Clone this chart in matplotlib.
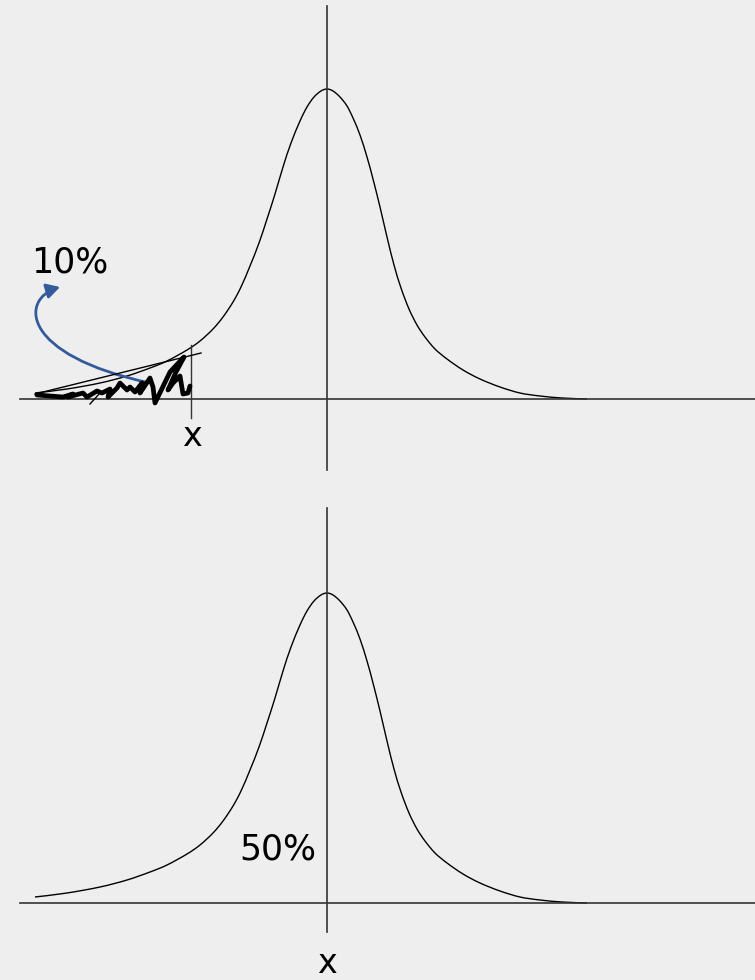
import numpy as np
import matplotlib
matplotlib.use("Agg")
import matplotlib.pyplot as plt
from matplotlib.path import Path
from matplotlib.patches import FancyArrowPatch, PathPatch

# bell curve profile: offset from centre (px) and height above baseline (px)
curve_dx = [-292, -260, -227, -200, -177, -160, -140, -127, -114, -104, -94, -86, -77, -68,
            -60, -52, -44, -36, -27, -20, -13, -6, 0,
            6, 13, 20, 26, 33, 40, 46, 53, 60, 67, 74, 82, 90, 98, 108, 120, 136, 153, 173,
            193, 213, 235, 260]
curve_h = [6, 10, 16, 23, 31, 38, 49, 58, 70, 82, 97, 112, 133, 156,
           180, 205, 232, 256, 278, 292, 302, 308, 310,
           308, 302, 293, 281, 264, 242, 220, 192, 162, 134, 111, 90, 74, 62, 50, 40, 29, 20, 12,
           6, 3, 1, 0]

# hand drawn shading under the left tail (image px)
scribble_x = [37, 50, 63, 73, 68, 83, 87, 97, 102, 110, 108, 117, 120, 127, 130, 135, 142,
              140, 150, 153, 155, 170, 184, 176, 168, 173, 180, 183, 188, 190]
scribble_y = [395, 396, 397, 394, 397, 393, 397, 391, 393, 389, 397, 388, 383, 390, 387, 392, 383,
              393, 378, 387, 403, 372, 357, 372, 390, 383, 376, 394, 393, 386]

labels_top = ["10%", "x"]
labels_bottom = ["50%", "x"]

bg = "#eeeeee"
axis_col = "#333333"
cx = 327


def smooth_path(xs, ys):
    # catmull-rom through the points, drawn as cubic bezier segments
    pts = np.column_stack([xs, ys]).astype(float)
    ext = np.vstack([pts[0], pts, pts[-1]])
    verts = [pts[0]]
    codes = [Path.MOVETO]
    for i in range(1, len(ext) - 2):
        p0, p1, p2, p3 = ext[i - 1], ext[i], ext[i + 1], ext[i + 2]
        verts += [p1 + (p2 - p0) / 6, p2 - (p3 - p1) / 6, p2]
        codes += [Path.CURVE4] * 3
    return Path(verts, codes)


fig = plt.figure(figsize=(7.55, 9.8), dpi=100, facecolor=bg)
ax = fig.add_axes([0, 0, 1, 1])
ax.set_facecolor(bg)
ax.set_xlim(0, 755)
ax.set_ylim(980, 0)
ax.axis("off")

dx = np.array(curve_dx)
h = np.array(curve_h)

# ---- top panel ----
base = 399
ax.plot([20, 755], [base, base], color=axis_col, lw=1.2)
ax.plot([cx, cx], [6, 470], color=axis_col, lw=1.2)
ax.add_patch(PathPatch(smooth_path(cx + dx, base - h), fill=False, edgecolor="black", lw=1.0))
ax.plot([191, 191], [345, 418], color=axis_col, lw=1.0)
ax.plot([35, 201], [394, 353], color="black", lw=1.0)
ax.plot([90, 100], [404, 393], color="black", lw=1.0)
ax.plot(scribble_x, scribble_y, color="black", lw=3.4, solid_joinstyle="round",
        solid_capstyle="round")
ax.text(70, 262, labels_top[0], fontsize=25, ha="center", va="center", color="black")
ax.text(192, 436, labels_top[1], fontsize=24, ha="center", va="center", color="black")

verts = [(150, 383), (20, 355), (20, 299), (60, 287)]
codes = [Path.MOVETO, Path.CURVE4, Path.CURVE4, Path.CURVE4]
arrow = FancyArrowPatch(path=Path(verts, codes), arrowstyle="-|>,head_length=8,head_width=4.5",
                        color="#335a9a", lw=2.0)
ax.add_patch(arrow)

# ---- bottom panel ----
base = 903
ax.plot([20, 755], [base, base], color=axis_col, lw=1.2)
ax.plot([cx, cx], [508, 932], color=axis_col, lw=1.2)
ax.add_patch(PathPatch(smooth_path(cx + dx, base - h), fill=False, edgecolor="black", lw=1.0))
ax.text(278, 849, labels_bottom[0], fontsize=25, ha="center", va="center", color="black")
ax.text(327, 963, labels_bottom[1], fontsize=24, ha="center", va="center", color="black")

fig.savefig("out.png", dpi=100, facecolor=bg)
